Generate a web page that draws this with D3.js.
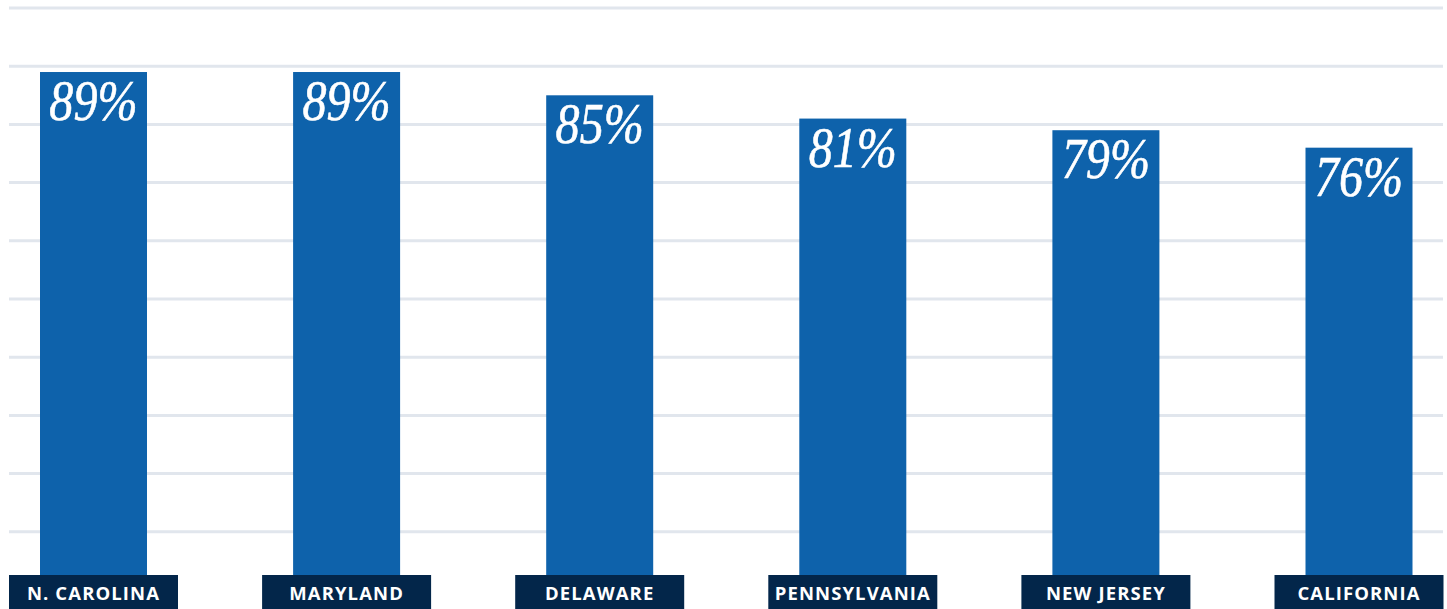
<!DOCTYPE html>
<html lang="en">
<head>
    <meta charset="UTF-8">
    <title>State rates</title>
    <style>
        body { margin: 0; background: #ffffff; }
        .value-label {
            font-family: "Liberation Serif", "Times New Roman", serif;
            font-style: italic;
            font-size: 56px;
            fill: #ffffff;
            stroke: #ffffff;
            stroke-width: 0.6px;
        }
        .state-label {
            font-family: "Open Sans", "Liberation Sans", sans-serif;
            font-weight: 700;
            font-size: 18.5px;
            letter-spacing: 1.1px;
            fill: #ffffff;
        }
    </style>
</head>
<body>
    <div id="chart"></div>
    <script src="https://d3js.org/d3.v7.min.js"></script>
    <script>
        const states = ["N. CAROLINA", "MARYLAND", "DELAWARE", "PENNSYLVANIA", "NEW JERSEY", "CALIFORNIA"];
        const rates = [89, 89, 85, 81, 79, 76];
        const gridTicks = [10, 20, 30, 40, 50, 60, 70, 80, 90, 100];

        const W = 1447, H = 609;
        const baseY = 575;      // where the bars meet the label boxes
        const barW = 107, boxW = 169, boxH = 34;

        const svg = d3.select("#chart")
            .append("svg")
            .attr("width", W)
            .attr("height", H);

        const x = d3.scalePoint()
            .domain(states)
            .range([93.5, 1359]);

        const y = d3.scaleLinear()
            .domain([0, 100])
            .range([590, 8]);

        // gridlines
        svg.append("g")
            .selectAll("line")
            .data(gridTicks)
            .join("line")
            .attr("x1", 9)
            .attr("x2", 1443)
            .attr("y1", d => y(d))
            .attr("y2", d => y(d))
            .attr("stroke", "#e1e6ed")
            .attr("stroke-width", 3);

        const data = states.map((s, i) => ({ state: s, rate: rates[i] }));

        // bars
        svg.append("g")
            .selectAll("rect")
            .data(data)
            .join("rect")
            .attr("x", d => x(d.state) - barW / 2)
            .attr("y", d => y(d.rate))
            .attr("width", barW)
            .attr("height", d => baseY - y(d.rate))
            .attr("fill", "#0e62ab");

        // value labels (squeezed a bit horizontally, the original face is narrower)
        svg.append("g")
            .selectAll("text")
            .data(data)
            .join("text")
            .attr("class", "value-label")
            .attr("transform", d => `translate(${x(d.state)},${y(d.rate) + 48}) scale(0.86,1)`)
            .attr("text-anchor", "middle")
            .text(d => d.rate + "%");

        // category boxes
        const boxes = svg.append("g")
            .selectAll("g")
            .data(data)
            .join("g")
            .attr("transform", d => `translate(${x(d.state)},${baseY})`);

        boxes.append("rect")
            .attr("x", -boxW / 2)
            .attr("y", 0)
            .attr("width", boxW)
            .attr("height", boxH)
            .attr("fill", "#03264a");

        boxes.append("text")
            .attr("class", "state-label")
            .attr("x", 0)
            .attr("y", 25)
            .attr("text-anchor", "middle")
            .text(d => d.state);
    </script>
</body>
</html>
